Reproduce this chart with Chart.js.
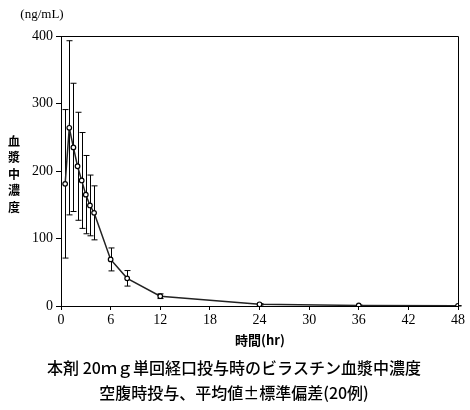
<!DOCTYPE html>
<html>
<head>
<meta charset="utf-8">
<script src="https://cdn.jsdelivr.net/npm/chart.js@4"></script>
<style>
  body { margin: 0; background: #fff; }
  #chart { display: block; }
</style>
</head>
<body>
<canvas id="chart" width="470" height="410"></canvas>
<script>
// 時間 (hr)
var hours = [0.5, 1, 1.5, 2, 2.5, 3, 3.5, 4, 6, 8, 12, 24, 36, 48];
// 平均値 (ng/mL)
var meanConc = [181, 264, 235, 207, 186, 165, 149, 138, 69, 41, 14.5, 2.5, 0.8, 0.3];
// 標準偏差
var sdConc = [110, 129, 95, 80, 71, 58, 45, 40, 17, 11.5, 3.5, 1, 0.5, 0.2];

var xTicks = [0, 6, 12, 18, 24, 30, 36, 42, 48];
var yTicks = [0, 100, 200, 300, 400];

var yTitle = ["血", "漿", "中", "濃", "度"];
var unitLabel = "(ng/mL)";
var xTitle = "時間(hr)";
var caption = ["本剤 20ｍｇ単回経口投与時のビラスチン血漿中濃度", "空腹時投与、平均値±標準偏差(20例)"];

var serif = "Liberation Serif";
var jp = "Noto Sans CJK JP";

// error bars + frame + extra labels
var extras = {
  id: "extras",
  beforeDatasetsDraw: function (chart) {
    var ctx = chart.ctx;
    var xs = chart.scales.x, ys = chart.scales.y;
    ctx.save();
    ctx.strokeStyle = "#000";
    ctx.lineWidth = 1;
    for (var i = 0; i < hours.length; i++) {
      var px = Math.round(xs.getPixelForValue(hours[i])) + 0.5;
      var top = ys.getPixelForValue(meanConc[i] + sdConc[i]);
      var bot = ys.getPixelForValue(Math.max(0, meanConc[i] - sdConc[i]));
      ctx.beginPath();
      ctx.moveTo(px, top);
      ctx.lineTo(px, bot);
      ctx.moveTo(px - 3, top);
      ctx.lineTo(px + 3, top);
      ctx.moveTo(px - 3, bot);
      ctx.lineTo(px + 3, bot);
      ctx.stroke();
    }
    ctx.restore();
  },
  afterDraw: function (chart) {
    var ctx = chart.ctx;
    var a = chart.chartArea;
    ctx.save();
    ctx.strokeStyle = "#000";
    ctx.lineWidth = 1;
    ctx.beginPath();
    ctx.moveTo(a.left, a.top + 0.5);
    ctx.lineTo(a.right + 0.5, a.top + 0.5);
    ctx.lineTo(a.right + 0.5, a.bottom);
    ctx.stroke();

    ctx.fillStyle = "#000";
    ctx.textAlign = "center";
    ctx.textBaseline = "middle";
    ctx.font = "13px '" + serif + "'";
    ctx.fillText(unitLabel, 42, 15);

    ctx.font = "bold 12px '" + jp + "'";
    for (var i = 0; i < yTitle.length; i++) {
      ctx.fillText(yTitle[i], 14, 141 + i * 16.5);
    }

    ctx.font = "bold 13px '" + jp + "'";
    ctx.fillText(xTitle, 260, 340);

    ctx.font = "500 16px '" + jp + "'";
    ctx.fillText(caption[0], 234, 368);
    ctx.fillText(caption[1], 234, 393);
    ctx.restore();
  }
};

var ctx = document.getElementById("chart").getContext("2d");
var chart = new Chart(ctx, {
  type: "line",
  data: {
    datasets: [
      {
        label: "血漿中濃度",
        data: hours.map(function (h, i) { return { x: h, y: meanConc[i] }; }),
        borderColor: "#222",
        borderWidth: 1.5,
        pointRadius: 2.3,
        pointBorderWidth: 1.2,
        pointBackgroundColor: "#fff",
        pointBorderColor: "#000",
        tension: 0,
      },
    ],
  },
  options: {
    responsive: false,
    animation: false,
    layout: { padding: { left: 0, top: 36, right: 12, bottom: 84 } },
    plugins: {
      legend: { display: false },
      tooltip: { enabled: false },
    },
    scales: {
      x: {
        type: "linear",
        min: 0,
        max: 48,
        afterBuildTicks: function (s) { s.ticks = xTicks.map(function (v) { return { value: v }; }); },
        afterFit: function (s) { s.height = 20; },
        grid: { drawOnChartArea: false, drawTicks: true, tickLength: 4, color: "#000" },
        border: { display: true, color: "#000", width: 1 },
        ticks: { color: "#000", padding: 2, maxRotation: 0, font: { family: serif, size: 14 } },
      },
      y: {
        type: "linear",
        min: 0,
        max: 400,
        afterBuildTicks: function (s) { s.ticks = yTicks.map(function (v) { return { value: v }; }); },
        afterFit: function (s) { s.width = 61; },
        grid: { drawOnChartArea: false, drawTicks: true, tickLength: 5, color: "#000" },
        border: { display: true, color: "#000", width: 1 },
        ticks: { color: "#000", padding: 3, font: { family: serif, size: 14 } },
      },
    },
  },
  plugins: [extras],
});
</script>
</body>
</html>
